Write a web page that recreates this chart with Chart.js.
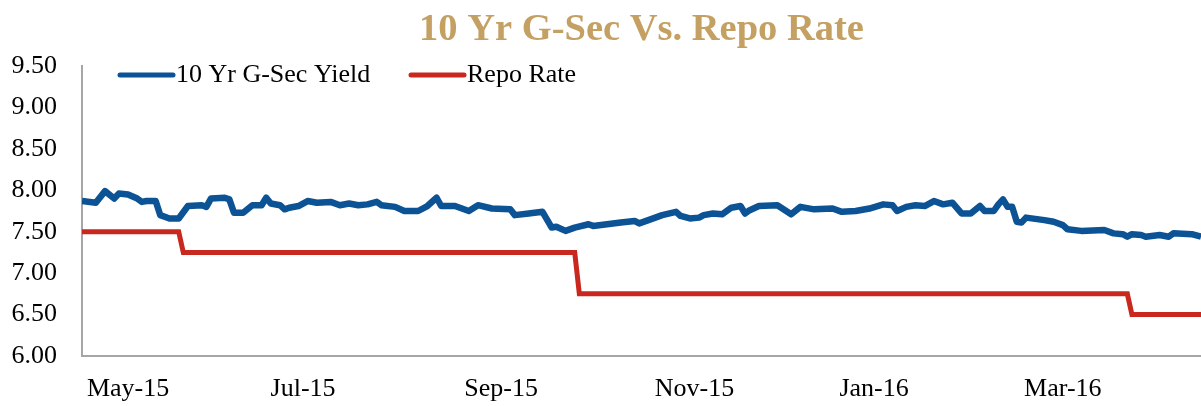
<!DOCTYPE html>
<html>
<head>
<meta charset="utf-8">
<script src="https://cdn.jsdelivr.net/npm/chart.js@4.4.0/dist/chart.umd.min.js"></script>
<style>
  html, body { margin: 0; padding: 0; background: #fff; }
  #wrap { width: 1201px; height: 406px; }
</style>
</head>
<body>
<div id="wrap"><canvas id="yieldChart"></canvas></div>
<script>
// trading-day index (0 = first day of the series) and values
const gsecDay = [0, 3, 5, 7, 8, 10, 12, 13, 14, 16, 17, 19, 21, 23, 26, 27, 28, 31, 32, 33,
  35, 37, 39, 40, 41, 43, 44, 45, 47, 49, 51, 54, 56, 58, 60, 62, 64, 65, 68, 70,
  73, 75, 77, 78, 81, 84, 86, 89, 93, 94, 97, 100, 102, 103, 105, 107, 110, 111, 114, 117,
  120, 121, 123, 126, 129, 130, 132, 134, 135, 137, 139, 141, 143, 144, 145, 147, 151, 154, 156, 159,
  163, 165, 168, 171, 174, 176, 177, 179, 181, 183, 185, 187, 189, 191, 193, 195, 196, 198, 199, 200,
  201, 202, 203, 204, 205, 209, 211, 213, 214, 217, 222, 224, 226, 227, 228, 230, 231, 234, 236, 237,
  241, 243];
const gsecYield = [7.87, 7.85, 7.99, 7.90, 7.96, 7.95, 7.90, 7.86, 7.87, 7.87, 7.70, 7.66, 7.66, 7.81, 7.82, 7.80, 7.90, 7.91, 7.89, 7.73,
  7.73, 7.82, 7.82, 7.91, 7.84, 7.82, 7.77, 7.79, 7.81, 7.87, 7.85, 7.86, 7.82, 7.84, 7.82, 7.83, 7.86, 7.82, 7.80, 7.75,
  7.75, 7.81, 7.91, 7.81, 7.81, 7.75, 7.82, 7.78, 7.77, 7.70, 7.72, 7.74, 7.55, 7.56, 7.51, 7.55, 7.59, 7.57, 7.59, 7.61,
  7.63, 7.60, 7.64, 7.70, 7.74, 7.69, 7.66, 7.67, 7.70, 7.72, 7.71, 7.79, 7.81, 7.72, 7.76, 7.81, 7.82, 7.71, 7.80, 7.77,
  7.78, 7.74, 7.75, 7.78, 7.83, 7.82, 7.75, 7.80, 7.82, 7.81, 7.87, 7.83, 7.85, 7.72, 7.72, 7.81, 7.75, 7.75, 7.83, 7.89,
  7.80, 7.80, 7.62, 7.61, 7.67, 7.64, 7.62, 7.58, 7.53, 7.51, 7.52, 7.48, 7.47, 7.44, 7.47, 7.46, 7.44, 7.46, 7.44, 7.48,
  7.47, 7.44];

const repoDay = [0, 21, 22, 107, 108, 227, 228, 243];
const repoRate = [7.50, 7.50, 7.25, 7.25, 6.75, 6.75, 6.50, 6.50];

const monthDay = [10, 48, 91, 133, 172, 213];
const monthLabels = ['May-15', 'Jul-15', 'Sep-15', 'Nov-15', 'Jan-16', 'Mar-16'];

const chartTitle = '10 Yr G-Sec Vs. Repo Rate';
const seriesNames = ['10 Yr G-Sec Yield', 'Repo Rate'];

const toPoints = (xs, ys) => xs.map((x, i) => ({x: x, y: ys[i]}));

Chart.defaults.font.family = "'Liberation Serif', 'Times New Roman', serif";
Chart.defaults.color = '#000';

// title centred over the plot, legend sitting inside the plot
const overlay = {
  id: 'overlay',
  afterDraw(chart) {
    const {ctx, chartArea} = chart;
    ctx.save();
    ctx.font = "bold 38.5px 'Liberation Serif'";
    ctx.fillStyle = '#C4A062';
    ctx.textAlign = 'center';
    ctx.textBaseline = 'alphabetic';
    ctx.fillText(chartTitle, (chartArea.left + chartArea.right) / 2, 40);

    const starts = [chartArea.left + 38, chartArea.left + 329];
    const y = 75;
    ctx.font = "26px 'Liberation Serif'";
    ctx.textAlign = 'left';
    ctx.textBaseline = 'middle';
    chart.data.datasets.forEach((ds, i) => {
      ctx.strokeStyle = ds.borderColor;
      ctx.lineWidth = 5;
      ctx.lineCap = 'round';
      ctx.beginPath();
      ctx.moveTo(starts[i], y);
      ctx.lineTo(starts[i] + 53, y);
      ctx.stroke();
      ctx.fillStyle = '#000';
      ctx.fillText(ds.label, starts[i] + 56, y);
    });
    ctx.restore();
  }
};

const chart = new Chart(document.getElementById('yieldChart'), {
  type: 'line',
  data: {
    datasets: [
      {
        label: seriesNames[0],
        data: toPoints(gsecDay, gsecYield),
        borderColor: '#0B5394',
        borderWidth: 6.5,
        pointRadius: 0,
        borderJoinStyle: 'round',
        tension: 0
      },
      {
        label: seriesNames[1],
        data: toPoints(repoDay, repoRate),
        borderColor: '#C9281F',
        borderWidth: 5,
        pointRadius: 0,
        tension: 0
      }
    ]
  },
  options: {
    responsive: true,
    maintainAspectRatio: false,
    animation: false,
    layout: {
      padding: {top: 66, left: 10, right: 0, bottom: 0}
    },
    plugins: {
      legend: {display: false},
      title: {display: false},
      tooltip: {enabled: false}
    },
    scales: {
      x: {
        type: 'linear',
        min: 0,
        max: 243,
        afterBuildTicks: axis => {
          axis.ticks = monthDay.map(v => ({value: v}));
        },
        afterFit: axis => { axis.height = 50; },
        ticks: {
          autoSkip: false,
          maxRotation: 0,
          padding: 18,
          font: {size: 26},
          callback: (val, i) => monthLabels[i]
        },
        grid: {display: false, drawTicks: false},
        border: {display: true, color: '#A6A6A6', width: 2}
      },
      y: {
        min: 6,
        max: 9.5,
        afterFit: axis => { axis.width = 72; },
        ticks: {
          stepSize: 0.5,
          padding: 25,
          font: {size: 26},
          callback: v => Number(v).toFixed(2)
        },
        grid: {display: false, drawTicks: false},
        border: {display: true, color: '#A6A6A6', width: 2}
      }
    }
  },
  plugins: [overlay]
});
</script>
</body>
</html>
